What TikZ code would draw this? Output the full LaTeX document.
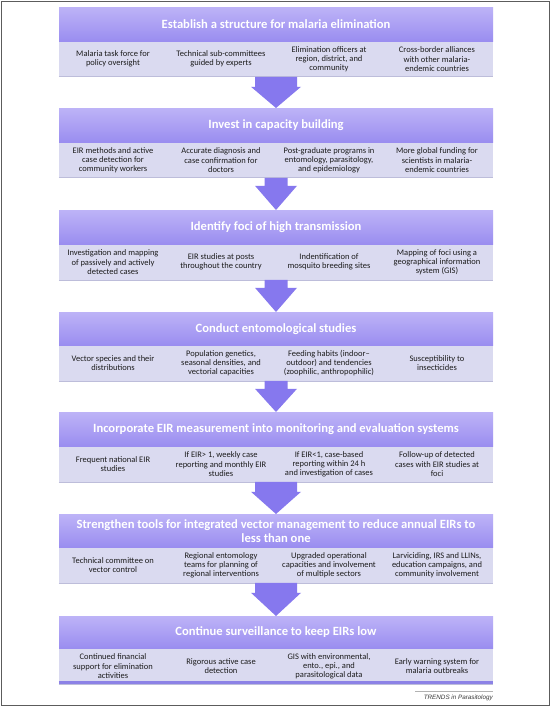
\documentclass[tikz,border=0pt]{standalone}
\usepackage{fontspec}
\setmainfont{Carlito}
\newfontfamily\footfont{Liberation Sans}
\usetikzlibrary{calc}
\definecolor{hdtop}{HTML}{BDB3F7}
\definecolor{hdbot}{HTML}{9A8DF0}
\definecolor{bodyc}{HTML}{DADAF0}
\definecolor{bodyedge}{HTML}{BDBDDA}
\definecolor{arrc}{HTML}{8678EE}
\definecolor{framec}{HTML}{5C5C5C}
\definecolor{txtc}{HTML}{1C1C1C}
\definecolor{footc}{HTML}{3A3A3A}
\definecolor{endline}{HTML}{8C82E6}
\newcommand\mkblock[8]{%
  \node[hdr, minimum height=#3pt, anchor=north] (#1h) at (276,#2) {#4};
  \node[bdy, anchor=north] (#1b) at (#1h.south) {};
  \draw[bodyedgeline] (#1b.south west) -- (#1b.south east);
  \node[cell] (#1c1) at ($(#1b.center)+(-163,0)$) {#5};
  \node[cell] (#1c2) at ($(#1b.center)+(-55,0)$) {#6};
  \node[cell] (#1c3) at ($(#1b.center)+(53,0)$) {#7};
  \node[cell] (#1c4) at ($(#1b.center)+(161,0)$) {#8};
}
\newcommand\mkarrow[5]{%
  \fill[blockarrow] ($(#1.south)+(-#3,0)$) -- ($(#1.south)+(#3,0)$) -- ($(#1.south)+(#3,#5)$)
    -- ($(#1.south)+(#4,#5)$) -- (#2.north) -- ($(#1.south)+(-#4,#5)$)
    -- ($(#1.south)+(-#3,#5)$) -- cycle;
}
\begin{document}
\begin{tikzpicture}[x=1pt,y=-1pt,
  hdr/.style={rectangle, minimum width=434pt, inner sep=0pt, top color=hdtop, bottom color=hdbot,
    draw=none, text=white, font=\bfseries\fontsize{12.6}{14}\selectfont, align=center},
  bdy/.style={rectangle, minimum width=434pt, minimum height=35pt, inner sep=0pt, fill=bodyc, draw=none},
  bodyedgeline/.style={draw=bodyedge, line width=0.6pt},
  cell/.style={align=center, font=\fontsize{8.5}{9.1}\selectfont, text=txtc, inner sep=0pt},
  blockarrow/.style={fill=arrc, draw=none}
]
\fill[white] (0,0) rectangle (552,708);
\useasboundingbox (0,0) rectangle (552,708);
\draw[framec, line width=1.5pt] (1.5,1.5) rectangle (549.5,705.5);

\mkblock{A}{7}{34}{Establish a structure for malaria elimination}
  {Malaria task force for\\policy oversight}
  {Technical sub-committees\\guided by experts}
  {Elimination officers at\\region, district, and\\community}
  {Cross-border alliances\\with other malaria-\\endemic countries}
\mkblock{B}{108}{34}{Invest in capacity building}
  {EIR methods and active\\case detection for\\community workers}
  {Accurate diagnosis and\\case confirmation for\\doctors}
  {Post-graduate programs in\\entomology, parasitology,\\and epidemiology}
  {More global funding for\\scientists in malaria-\\endemic countries}
\mkblock{C}{210}{34}{Identify foci of high transmission}
  {Investigation and mapping\\of passively and actively\\detected cases}
  {EIR studies at posts\\throughout the country}
  {Indentification of\\mosquito breeding sites}
  {Mapping of foci using a\\geographical information\\system (GIS)}
\mkblock{D}{312}{33}{Conduct entomological studies}
  {Vector species and their\\distributions}
  {Population genetics,\\seasonal densities, and\\vectorial capacities}
  {Feeding habits (indoor--\\outdoor) and tendencies\\(zoophilic, anthropophilic)}
  {Susceptibility to\\insecticides}
\mkblock{E}{412}{34}{Incorporate EIR measurement into monitoring and evaluation systems}
  {Frequent national EIR\\studies}
  {If EIR> 1, weekly case\\reporting and monthly EIR\\studies}
  {If EIR<1, case-based\\reporting within 24 h\\and investigation of cases}
  {Follow-up of detected\\cases with EIR studies at\\foci}
\mkblock{F}{514}{33}{Strengthen tools for integrated vector management to reduce annual EIRs to\\less than one}
  {Technical committee on\\vector control}
  {Regional entomology\\teams for planning of\\regional interventions}
  {Upgraded operational\\capacities and involvement\\of multiple sectors}
  {Larviciding, IRS and LLINs,\\education campaigns, and\\community involvement}
\mkblock{G}{616}{32}{Continue surveillance to keep EIRs low}
  {Continued financial\\support for elimination\\activities}
  {Rigorous active case\\detection}
  {GIS with environmental,\\ento., epi., and\\parasitological data}
  {Early warning system for\\malaria outbreaks}
\draw[endline, line width=2.5pt] ($(Gb.south west)+(0,-1.2)$) -- ($(Gb.south east)+(0,-1.2)$);

\mkarrow{Ab}{Bh}{21}{25}{10}
\mkarrow{Bb}{Ch}{11.5}{21}{8}
\mkarrow{Cb}{Dh}{11.5}{21}{8}
\mkarrow{Db}{Eh}{11.5}{21}{8}
\mkarrow{Eb}{Fh}{21}{25}{10}
\mkarrow{Fb}{Gh}{21}{25}{10}

\coordinate (footl) at (415,691);
\coordinate (footr) at (493,691);
\draw[gray!60, line width=0.5pt] (footl) -- (footr);
\node[anchor=east, inner sep=0pt, text=footc, font=\footfont\fontsize{6.3}{7}\selectfont\itshape] (foot) at (493,698) {TRENDS in Parasitology};
\end{tikzpicture}
\end{document}
